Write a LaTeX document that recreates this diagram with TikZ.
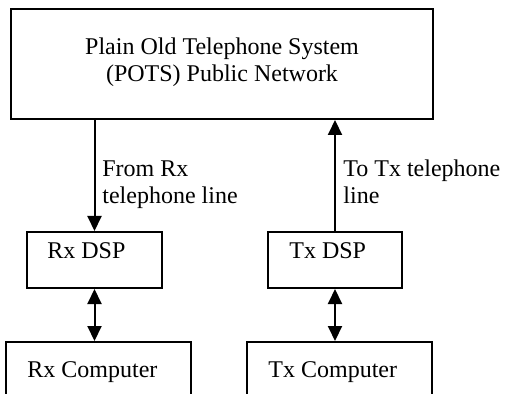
\documentclass[tikz,border=0pt]{standalone}
\usepackage{fontspec}
\setmainfont{Liberation Serif}
\usetikzlibrary{positioning, arrows.meta, fit}

\tikzset{
  box/.style={draw, line width=1pt, inner sep=0pt},
  lbl/.style={font=\fontsize{12}{13.5}\selectfont, inner sep=0pt, align=left},
  flow/.style={line width=1pt, -{Triangle[width=7pt,length=7.5pt]}},
  twoway/.style={line width=1pt, {Triangle[width=7pt,length=7.5pt]}-{Triangle[width=7pt,length=7.5pt]}}
}

\begin{document}
\begin{tikzpicture}[x=0.5pt, y=-0.5pt]
  \clip (0,0) rectangle (506,394);
  % boxes
  \node[box, fit={(11,9) (433,119)}] (pots) {};
  \node[box, fit={(27,232) (162,288)}] (rxdsp) {};
  \node[box, fit={(268,232) (402,288)}] (txdsp) {};
  \node[box, fit={(6,342) (191,420)}] (rxpc) {};
  \node[box, fit={(247,342) (432,420)}] (txpc) {};
  % texts (base = last line)
  \node[lbl, align=center, anchor=base] (potstxt) at (222,82) {Plain Old Telephone System\\(POTS) Public Network};
  \node[lbl, anchor=base west] (rxdsptxt) at (47,258) {Rx DSP};
  \node[lbl, anchor=base west] (txdsptxt) at (289,258) {Tx DSP};
  \node[lbl, anchor=base west] (rxpctxt) at (27,377) {Rx Computer};
  \node[lbl, anchor=base west] (txpctxt) at (268,377) {Tx Computer};
  \node[lbl, anchor=base west] (rxline) at (102,204) {From Rx\\telephone line};
  \node[lbl, anchor=base west] (txline) at (343,204) {To Tx telephone\\line};
  % connectors
  \draw[flow] (rxdsp.north |- pots.south) -- (rxdsp.north);
  \draw[flow] (txdsp.north) -- (txdsp.north |- pots.south);
  \draw[twoway] (rxdsp.south) -- (rxdsp.south |- rxpc.north);
  \draw[twoway] (txdsp.south) -- (txdsp.south |- txpc.north);
\end{tikzpicture}
\end{document}
